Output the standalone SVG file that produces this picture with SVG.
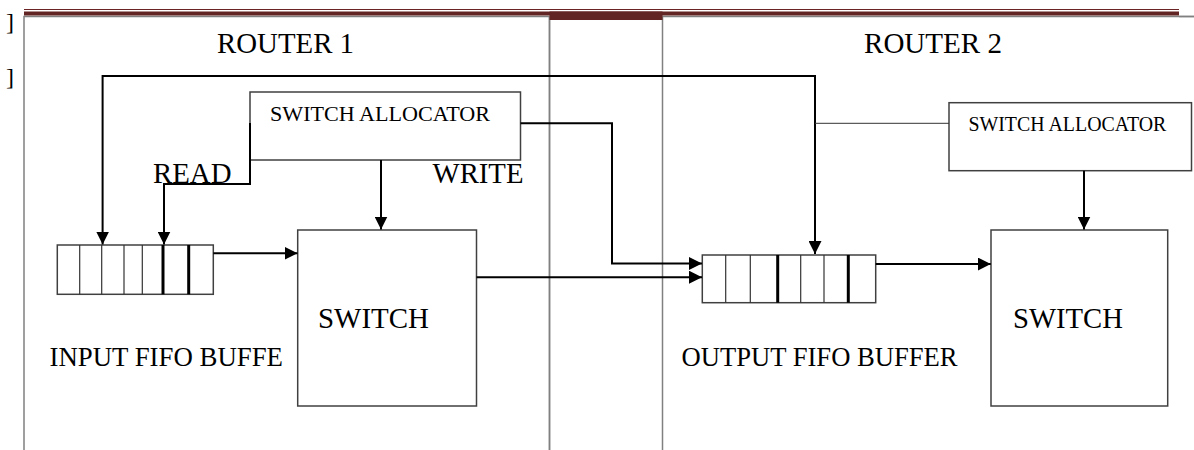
<svg xmlns="http://www.w3.org/2000/svg" width="1194" height="450" viewBox="0 0 1194 450">
<style>
text{font-family:"Liberation Serif","Times New Roman",serif;fill:#000}
.frame{fill:none;stroke:#808080;stroke-width:1.5}
.box{fill:#fff;stroke:#404040;stroke-width:1.5}
.cell{stroke:#333;stroke-width:1.2}
.thick{stroke:#000;stroke-width:3}
.conn{fill:none;stroke:#000;stroke-width:2}
.thin{fill:none;stroke:#333;stroke-width:1}
</style>
<defs>
<marker id="arr" markerUnits="userSpaceOnUse" markerWidth="13" markerHeight="13" refX="13" refY="6.5" orient="auto">
<path d="M0,0 L13,6.5 L0,13 z" fill="#000"/>
</marker>
</defs>
<rect width="1194" height="450" fill="#fff"/>
<g id="frames">
<rect class="frame" x="24" y="16.5" width="525.5" height="450"/>
<rect class="frame" x="662.5" y="16.5" width="560" height="450"/>
<line x1="549.5" y1="16" x2="549.5" y2="450" class="frame"/>
<line x1="1179" y1="16.5" x2="1194" y2="16.5" stroke="#808080" stroke-width="1.5"/>
<line x1="24" y1="9.5" x2="1179" y2="9.5" stroke="#6b2424" stroke-width="1"/>
<rect x="24" y="11.5" width="1155" height="4" fill="#632523"/>
<rect x="549.5" y="11.5" width="113" height="8.5" fill="#632523"/>
<text x="6" y="30" font-size="24">]</text>
<text x="6" y="85" font-size="24">]</text>
</g>
<g id="router1-label"><text x="217" y="53.3" font-size="29" textLength="137" lengthAdjust="spacingAndGlyphs">ROUTER 1</text></g>
<g id="router2-label"><text x="864" y="53.3" font-size="29" textLength="138" lengthAdjust="spacingAndGlyphs">ROUTER 2</text></g>
<g id="sa1">
<rect class="box" x="250" y="92" width="270.5" height="68"/>
<text x="270" y="120.7" font-size="21" textLength="220" lengthAdjust="spacingAndGlyphs">SWITCH ALLOCATOR</text>
</g>
<g id="sa2">
<rect class="box" x="949" y="102.7" width="242.5" height="68"/>
<text x="968.4" y="130.7" font-size="20" textLength="198" lengthAdjust="spacingAndGlyphs">SWITCH ALLOCATOR</text>
</g>
<g id="switch1">
<rect class="box" x="297.7" y="230" width="178.8" height="176"/>
<text x="318" y="328.3" font-size="29" textLength="111" lengthAdjust="spacingAndGlyphs">SWITCH</text>
</g>
<g id="switch2">
<rect class="box" x="991" y="230" width="176.7" height="176"/>
<text x="1013" y="328.3" font-size="29" textLength="110" lengthAdjust="spacingAndGlyphs">SWITCH</text>
</g>
<g id="buffer1">
<rect class="box" x="57.3" y="245" width="156" height="49.3"/>
<line class="cell" x1="79.7" y1="245" x2="79.7" y2="294.3"/>
<line class="cell" x1="101.7" y1="245" x2="101.7" y2="294.3"/>
<line class="cell" x1="124" y1="245" x2="124" y2="294.3"/>
<line class="cell" x1="142.3" y1="245" x2="142.3" y2="294.3"/>
<line class="thick" x1="163" y1="245" x2="163" y2="294.3"/>
<line class="thick" x1="188.7" y1="245" x2="188.7" y2="294.3"/>
<text x="49.5" y="366" font-size="28" textLength="233.5" lengthAdjust="spacingAndGlyphs">INPUT FIFO BUFFE</text>
</g>
<g id="buffer2">
<rect class="box" x="702.3" y="255" width="173.4" height="47.7"/>
<line class="cell" x1="725.7" y1="255" x2="725.7" y2="302.7"/>
<line class="cell" x1="750.3" y1="255" x2="750.3" y2="302.7"/>
<line class="thick" x1="777.7" y1="255" x2="777.7" y2="302.7"/>
<line class="cell" x1="800.7" y1="255" x2="800.7" y2="302.7"/>
<line class="cell" x1="824" y1="255" x2="824" y2="302.7"/>
<line class="thick" x1="848.3" y1="255" x2="848.3" y2="302.7"/>
<text x="681.6" y="366" font-size="28" textLength="276" lengthAdjust="spacingAndGlyphs">OUTPUT FIFO BUFFER</text>
</g>
<g id="read-label"><text x="153" y="183.3" font-size="29" textLength="78.5" lengthAdjust="spacingAndGlyphs">READ</text></g>
<g id="write-label"><text x="432.5" y="183.3" font-size="29" textLength="91" lengthAdjust="spacingAndGlyphs">WRITE</text></g>
<g id="connectors">
<path class="conn" d="M460,76 H102.6 V244.5" marker-end="url(#arr)"/>
<path class="conn" d="M460,76 H815 V254" marker-end="url(#arr)"/>
<path class="thin" d="M815,123.3 H949"/>
<path class="conn" d="M250,123 V184 H164 V244.5" marker-end="url(#arr)"/>
<path class="conn" d="M381,160 V229.5" marker-end="url(#arr)"/>
<path class="conn" d="M520.5,123.3 H612 V263.5 H702" marker-end="url(#arr)"/>
<path class="conn" d="M476.5,277.2 H702" marker-end="url(#arr)"/>
<path class="conn" d="M213.3,253.3 H297.5" marker-end="url(#arr)"/>
<path class="conn" d="M875.7,264 H990.8" marker-end="url(#arr)"/>
<path class="conn" d="M1084,170.7 V229.5" marker-end="url(#arr)"/>
</g>
</svg>
